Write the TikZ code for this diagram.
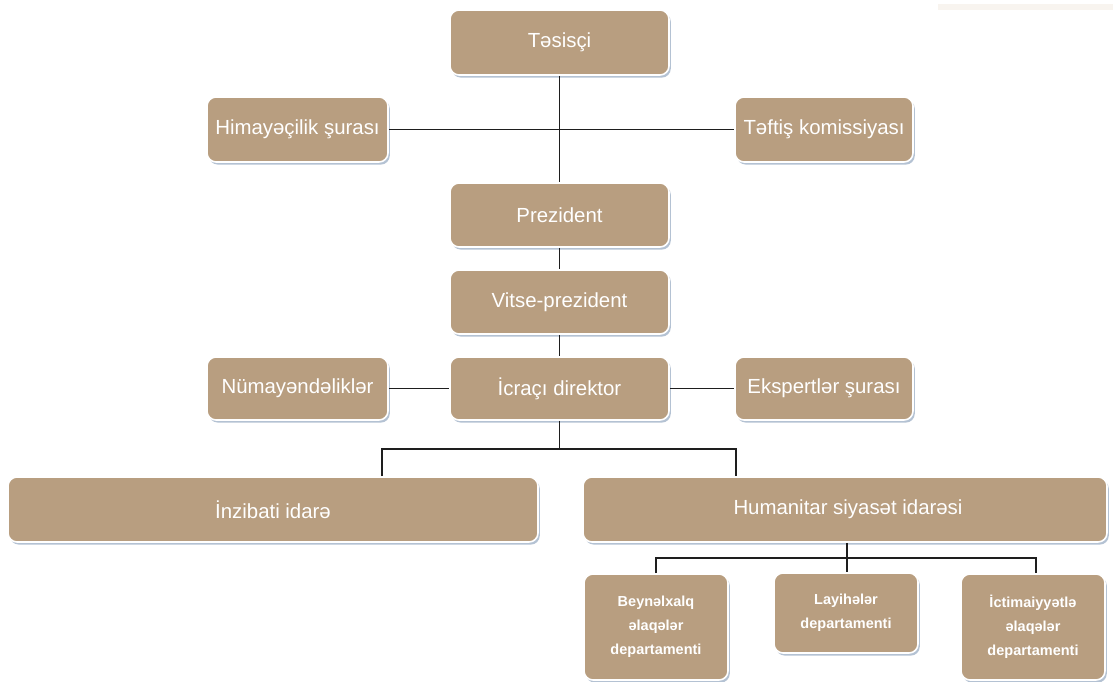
\documentclass[tikz,border=0pt]{standalone}
\usepackage{fontspec}
\setmainfont{Liberation Sans}
\usetikzlibrary{shadows}
\definecolor{boxc}{HTML}{B89E80}
\definecolor{shadc}{HTML}{B4C2D3}
\definecolor{linec}{HTML}{1E1E1E}
\definecolor{stripc}{HTML}{F8F4EF}
\tikzset{
  box/.style={rectangle, rounded corners=9pt, fill=boxc, draw=white, line width=1.6pt,
    text=white, align=center, inner sep=0pt,
    drop shadow={shadow xshift=1.8pt, shadow yshift=-2.6pt, fill=shadc, opacity=1},
    font=\fontsize{20.4}{24}\selectfont},
  small/.style={box, font=\bfseries\fontsize{14.5}{24}\selectfont},
  conn/.style={draw=linec, line width=1.8pt}
}
\begin{document}
\begin{tikzpicture}[x=1pt,y=-1pt]
\useasboundingbox (0,0) rectangle (1113,682);
\fill[stripc] (938,4) rectangle (1113,10);
% nodes
\node[box, minimum width=219, minimum height=65] (tesisci) at (559.5,42.5) {Təsisçi};
\node[box, minimum width=181, minimum height=65] (himaye) at (297.5,129.5) {Himayəçilik şurası};
\node[box, minimum width=178, minimum height=65] (teftis) at (824,129.5) {Təftiş komissiyası};
\node[box, minimum width=219, minimum height=64] (prez) at (559.5,215) {Prezident};
\node[box, minimum width=219, minimum height=64] (vitse) at (559.5,302) {Vitse-prezident};
\node[box, minimum width=219, minimum height=63] (icraci) at (559.5,388.5) {İcraçı direktor};
\node[box, minimum width=181, minimum height=63] (numay) at (297.5,388.5) {Nümayəndəliklər};
\node[box, minimum width=178, minimum height=63] (ekspert) at (824,388.5) {Ekspertlər şurası};
\node[box, minimum width=530, minimum height=65] (inzibati) at (273,509.5) {İnzibati idarə};
\node[box, minimum width=524, minimum height=65] (human) at (845,509.5) {\hspace*{6pt}Humanitar siyasət idarəsi};
\node[small, minimum width=144, minimum height=106] (beyn) at (656,627) {Beynəlxalq\\əlaqələr\\departamenti};
\node[small, minimum width=144, minimum height=80] (layihe) at (846,613) {Layihələr\\departamenti};
\node[small, minimum width=144, minimum height=106] (ictima) at (1033,627) {İctimaiyyətlə\\əlaqələr\\departamenti};
% connectors
\coordinate (j1) at (559.5,449);
\coordinate (bl) at (382,449);
\coordinate (br) at (736,449);
\coordinate (j2) at (847,558);
\coordinate (cl) at (656,558);
\coordinate (cr) at (1036,558);
\path[conn] (tesisci.south) -- (prez.north);
\path[conn] (himaye.east) -- (teftis.west);
\path[conn] (prez.south) -- (vitse.north);
\path[conn] (vitse.south) -- (icraci.north);
\path[conn] (numay.east) -- (icraci.west);
\path[conn] (icraci.east) -- (ekspert.west);
\path[conn] (icraci.south) -- (j1);
\path[conn] (bl |- inzibati.north) -- (bl) -- (br) -- (br |- human.north);
\path[conn] (j2 |- human.south) -- (j2);
\path[conn] (cl |- beyn.north) -- (cl) -- (cr) -- (cr |- ictima.north);
\path[conn] (j2) -- (j2 |- layihe.north);
\end{tikzpicture}
\end{document}
